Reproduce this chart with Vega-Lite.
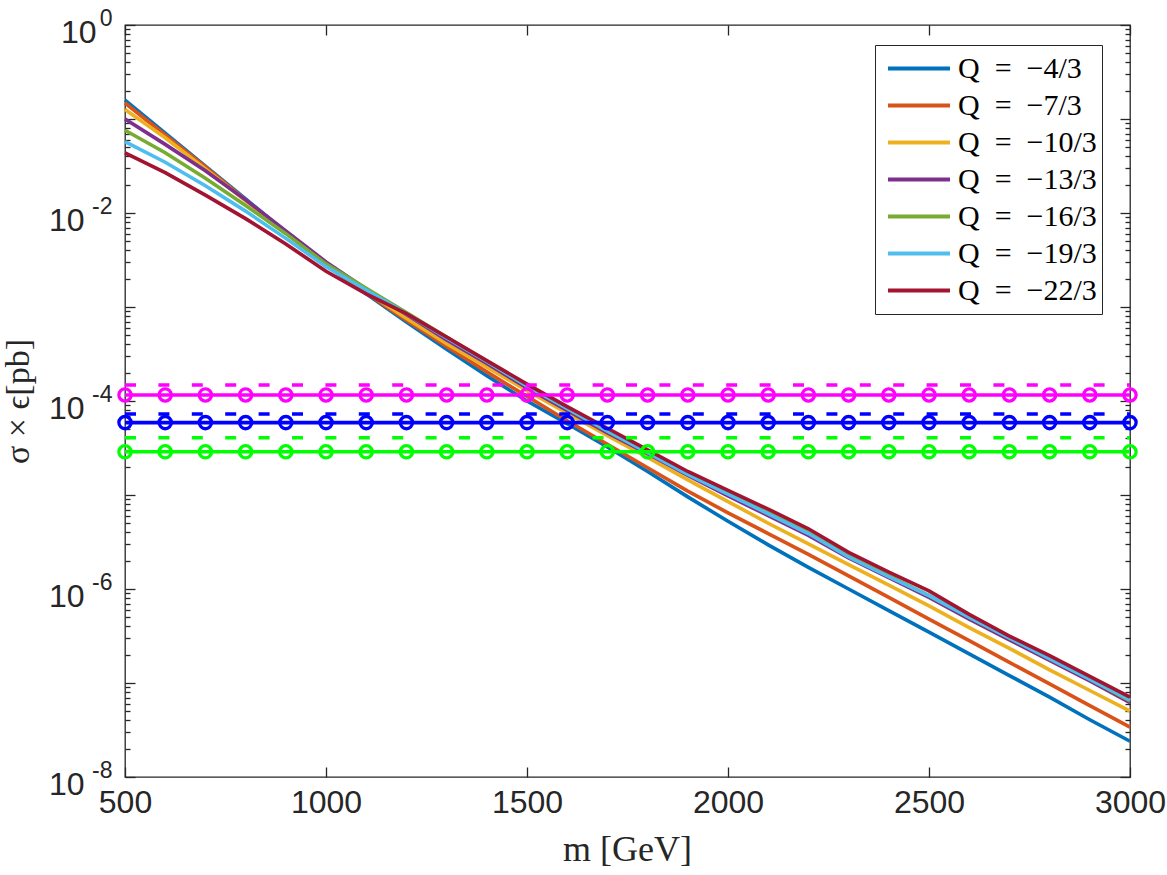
{
  "$schema": "https://vega.github.io/schema/vega-lite/v6.json",
  "width": 1005,
  "height": 752,
  "autosize": {"type": "none"},
  "padding": {"left": 125, "top": 25, "right": 37, "bottom": 98},
  "background": "white",
  "config": {
    "view": {"stroke": "#262626", "strokeWidth": 1.3},
    "axis": {"grid": false, "domain": false, "tickColor": "#262626", "tickWidth": 1.3, "labelColor": "#262626", "titleColor": "#262626", "labelOverlap": false, "labelBound": false}
  },
  "datasets": {
    "curves": [
      {"m":500,"Q":"−4/3","xsec":0.1585},{"m":600,"Q":"−4/3","xsec":0.0708},{"m":700,"Q":"−4/3","xsec":0.0316},{"m":800,"Q":"−4/3","xsec":0.0141},{"m":900,"Q":"−4/3","xsec":0.00631},{"m":1000,"Q":"−4/3","xsec":0.00282},{"m":1100,"Q":"−4/3","xsec":0.00138},{"m":1200,"Q":"−4/3","xsec":6.92e-4},{"m":1300,"Q":"−4/3","xsec":3.55e-4},{"m":1400,"Q":"−4/3","xsec":1.86e-4},{"m":1500,"Q":"−4/3","xsec":1.0e-4},{"m":1600,"Q":"−4/3","xsec":5.75e-5},{"m":1700,"Q":"−4/3","xsec":3.24e-5},{"m":1800,"Q":"−4/3","xsec":1.78e-5},{"m":1900,"Q":"−4/3","xsec":9.55e-6},{"m":2000,"Q":"−4/3","xsec":5.25e-6},{"m":2100,"Q":"−4/3","xsec":2.95e-6},{"m":2200,"Q":"−4/3","xsec":1.70e-6},{"m":2300,"Q":"−4/3","xsec":1.0e-6},{"m":2400,"Q":"−4/3","xsec":5.89e-7},{"m":2500,"Q":"−4/3","xsec":3.47e-7},{"m":2600,"Q":"−4/3","xsec":2.04e-7},{"m":2700,"Q":"−4/3","xsec":1.20e-7},{"m":2800,"Q":"−4/3","xsec":7.08e-8},{"m":2900,"Q":"−4/3","xsec":4.07e-8},{"m":3000,"Q":"−4/3","xsec":2.40e-8},
      {"m":500,"Q":"−7/3","xsec":0.1479},{"m":600,"Q":"−7/3","xsec":0.0676},{"m":700,"Q":"−7/3","xsec":0.0309},{"m":800,"Q":"−7/3","xsec":0.0138},{"m":900,"Q":"−7/3","xsec":0.00617},{"m":1000,"Q":"−7/3","xsec":0.00282},{"m":1100,"Q":"−7/3","xsec":0.00141},{"m":1200,"Q":"−7/3","xsec":7.24e-4},{"m":1300,"Q":"−7/3","xsec":3.80e-4},{"m":1400,"Q":"−7/3","xsec":2.04e-4},{"m":1500,"Q":"−7/3","xsec":1.12e-4},{"m":1600,"Q":"−7/3","xsec":6.17e-5},{"m":1700,"Q":"−7/3","xsec":3.47e-5},{"m":1800,"Q":"−7/3","xsec":1.95e-5},{"m":1900,"Q":"−7/3","xsec":1.10e-5},{"m":2000,"Q":"−7/3","xsec":6.46e-6},{"m":2100,"Q":"−7/3","xsec":3.89e-6},{"m":2200,"Q":"−7/3","xsec":2.34e-6},{"m":2300,"Q":"−7/3","xsec":1.38e-6},{"m":2400,"Q":"−7/3","xsec":8.13e-7},{"m":2500,"Q":"−7/3","xsec":4.79e-7},{"m":2600,"Q":"−7/3","xsec":2.82e-7},{"m":2700,"Q":"−7/3","xsec":1.66e-7},{"m":2800,"Q":"−7/3","xsec":9.77e-8},{"m":2900,"Q":"−7/3","xsec":5.75e-8},{"m":3000,"Q":"−7/3","xsec":3.39e-8},
      {"m":500,"Q":"−10/3","xsec":0.1259},{"m":600,"Q":"−10/3","xsec":0.0631},{"m":700,"Q":"−10/3","xsec":0.0295},{"m":800,"Q":"−10/3","xsec":0.0135},{"m":900,"Q":"−10/3","xsec":0.00617},{"m":1000,"Q":"−10/3","xsec":0.00288},{"m":1100,"Q":"−10/3","xsec":0.00145},{"m":1200,"Q":"−10/3","xsec":7.59e-4},{"m":1300,"Q":"−10/3","xsec":4.07e-4},{"m":1400,"Q":"−10/3","xsec":2.29e-4},{"m":1500,"Q":"−10/3","xsec":1.29e-4},{"m":1600,"Q":"−10/3","xsec":7.41e-5},{"m":1700,"Q":"−10/3","xsec":4.27e-5},{"m":1800,"Q":"−10/3","xsec":2.51e-5},{"m":1900,"Q":"−10/3","xsec":1.45e-5},{"m":2000,"Q":"−10/3","xsec":8.51e-6},{"m":2100,"Q":"−10/3","xsec":5.01e-6},{"m":2200,"Q":"−10/3","xsec":3.02e-6},{"m":2300,"Q":"−10/3","xsec":1.82e-6},{"m":2400,"Q":"−10/3","xsec":1.10e-6},{"m":2500,"Q":"−10/3","xsec":6.61e-7},{"m":2600,"Q":"−10/3","xsec":3.89e-7},{"m":2700,"Q":"−10/3","xsec":2.34e-7},{"m":2800,"Q":"−10/3","xsec":1.38e-7},{"m":2900,"Q":"−10/3","xsec":8.32e-8},{"m":3000,"Q":"−10/3","xsec":5.01e-8},
      {"m":500,"Q":"−13/3","xsec":0.100},{"m":600,"Q":"−13/3","xsec":0.0537},{"m":700,"Q":"−13/3","xsec":0.0282},{"m":800,"Q":"−13/3","xsec":0.0138},{"m":900,"Q":"−13/3","xsec":0.00646},{"m":1000,"Q":"−13/3","xsec":0.00302},{"m":1100,"Q":"−13/3","xsec":0.00155},{"m":1200,"Q":"−13/3","xsec":8.32e-4},{"m":1300,"Q":"−13/3","xsec":4.47e-4},{"m":1400,"Q":"−13/3","xsec":2.51e-4},{"m":1500,"Q":"−13/3","xsec":1.38e-4},{"m":1600,"Q":"−13/3","xsec":7.94e-5},{"m":1700,"Q":"−13/3","xsec":4.57e-5},{"m":1800,"Q":"−13/3","xsec":2.75e-5},{"m":1900,"Q":"−13/3","xsec":1.62e-5},{"m":2000,"Q":"−13/3","xsec":9.77e-6},{"m":2100,"Q":"−13/3","xsec":6.03e-6},{"m":2200,"Q":"−13/3","xsec":3.72e-6},{"m":2300,"Q":"−13/3","xsec":2.14e-6},{"m":2400,"Q":"−13/3","xsec":1.32e-6},{"m":2500,"Q":"−13/3","xsec":8.13e-7},{"m":2600,"Q":"−13/3","xsec":4.79e-7},{"m":2700,"Q":"−13/3","xsec":2.88e-7},{"m":2800,"Q":"−13/3","xsec":1.74e-7},{"m":2900,"Q":"−13/3","xsec":1.05e-7},{"m":3000,"Q":"−13/3","xsec":6.17e-8},
      {"m":500,"Q":"−16/3","xsec":0.0759},{"m":600,"Q":"−16/3","xsec":0.0437},{"m":700,"Q":"−16/3","xsec":0.0234},{"m":800,"Q":"−16/3","xsec":0.0120},{"m":900,"Q":"−16/3","xsec":0.00603},{"m":1000,"Q":"−16/3","xsec":0.00288},{"m":1100,"Q":"−16/3","xsec":0.001585},{"m":1200,"Q":"−16/3","xsec":8.71e-4},{"m":1300,"Q":"−16/3","xsec":4.79e-4},{"m":1400,"Q":"−16/3","xsec":2.63e-4},{"m":1500,"Q":"−16/3","xsec":1.45e-4},{"m":1600,"Q":"−16/3","xsec":8.32e-5},{"m":1700,"Q":"−16/3","xsec":4.79e-5},{"m":1800,"Q":"−16/3","xsec":2.88e-5},{"m":1900,"Q":"−16/3","xsec":1.70e-5},{"m":2000,"Q":"−16/3","xsec":1.05e-5},{"m":2100,"Q":"−16/3","xsec":6.46e-6},{"m":2200,"Q":"−16/3","xsec":3.98e-6},{"m":2300,"Q":"−16/3","xsec":2.24e-6},{"m":2400,"Q":"−16/3","xsec":1.38e-6},{"m":2500,"Q":"−16/3","xsec":8.51e-7},{"m":2600,"Q":"−16/3","xsec":5.01e-7},{"m":2700,"Q":"−16/3","xsec":3.02e-7},{"m":2800,"Q":"−16/3","xsec":1.82e-7},{"m":2900,"Q":"−16/3","xsec":1.10e-7},{"m":3000,"Q":"−16/3","xsec":6.46e-8},
      {"m":500,"Q":"−19/3","xsec":0.0575},{"m":600,"Q":"−19/3","xsec":0.0347},{"m":700,"Q":"−19/3","xsec":0.0195},{"m":800,"Q":"−19/3","xsec":0.01047},{"m":900,"Q":"−19/3","xsec":0.00537},{"m":1000,"Q":"−19/3","xsec":0.00269},{"m":1100,"Q":"−19/3","xsec":0.00151},{"m":1200,"Q":"−19/3","xsec":8.51e-4},{"m":1300,"Q":"−19/3","xsec":4.68e-4},{"m":1400,"Q":"−19/3","xsec":2.63e-4},{"m":1500,"Q":"−19/3","xsec":1.45e-4},{"m":1600,"Q":"−19/3","xsec":8.32e-5},{"m":1700,"Q":"−19/3","xsec":4.79e-5},{"m":1800,"Q":"−19/3","xsec":2.82e-5},{"m":1900,"Q":"−19/3","xsec":1.66e-5},{"m":2000,"Q":"−19/3","xsec":1.02e-5},{"m":2100,"Q":"−19/3","xsec":6.31e-6},{"m":2200,"Q":"−19/3","xsec":3.89e-6},{"m":2300,"Q":"−19/3","xsec":2.19e-6},{"m":2400,"Q":"−19/3","xsec":1.35e-6},{"m":2500,"Q":"−19/3","xsec":8.51e-7},{"m":2600,"Q":"−19/3","xsec":5.01e-7},{"m":2700,"Q":"−19/3","xsec":3.02e-7},{"m":2800,"Q":"−19/3","xsec":1.82e-7},{"m":2900,"Q":"−19/3","xsec":1.10e-7},{"m":3000,"Q":"−19/3","xsec":6.61e-8},
      {"m":500,"Q":"−22/3","xsec":0.0437},{"m":600,"Q":"−22/3","xsec":0.0269},{"m":700,"Q":"−22/3","xsec":0.0155},{"m":800,"Q":"−22/3","xsec":0.00871},{"m":900,"Q":"−22/3","xsec":0.00468},{"m":1000,"Q":"−22/3","xsec":0.00240},{"m":1100,"Q":"−22/3","xsec":0.00138},{"m":1200,"Q":"−22/3","xsec":8.51e-4},{"m":1300,"Q":"−22/3","xsec":4.79e-4},{"m":1400,"Q":"−22/3","xsec":2.69e-4},{"m":1500,"Q":"−22/3","xsec":1.51e-4},{"m":1600,"Q":"−22/3","xsec":8.71e-5},{"m":1700,"Q":"−22/3","xsec":5.13e-5},{"m":1800,"Q":"−22/3","xsec":3.02e-5},{"m":1900,"Q":"−22/3","xsec":1.78e-5},{"m":2000,"Q":"−22/3","xsec":1.12e-5},{"m":2100,"Q":"−22/3","xsec":7.08e-6},{"m":2200,"Q":"−22/3","xsec":4.37e-6},{"m":2300,"Q":"−22/3","xsec":2.45e-6},{"m":2400,"Q":"−22/3","xsec":1.51e-6},{"m":2500,"Q":"−22/3","xsec":9.55e-7},{"m":2600,"Q":"−22/3","xsec":5.37e-7},{"m":2700,"Q":"−22/3","xsec":3.16e-7},{"m":2800,"Q":"−22/3","xsec":1.95e-7},{"m":2900,"Q":"−22/3","xsec":1.175e-7},{"m":3000,"Q":"−22/3","xsec":7.08e-8}
    ],
    "limits": [
      {"m":500,"set":"a","xsec":1.16e-4},{"m":600,"set":"a","xsec":1.16e-4},{"m":700,"set":"a","xsec":1.16e-4},{"m":800,"set":"a","xsec":1.16e-4},{"m":900,"set":"a","xsec":1.16e-4},{"m":1000,"set":"a","xsec":1.16e-4},{"m":1100,"set":"a","xsec":1.16e-4},{"m":1200,"set":"a","xsec":1.16e-4},{"m":1300,"set":"a","xsec":1.16e-4},{"m":1400,"set":"a","xsec":1.16e-4},{"m":1500,"set":"a","xsec":1.16e-4},{"m":1600,"set":"a","xsec":1.16e-4},{"m":1700,"set":"a","xsec":1.16e-4},{"m":1800,"set":"a","xsec":1.16e-4},{"m":1900,"set":"a","xsec":1.16e-4},{"m":2000,"set":"a","xsec":1.16e-4},{"m":2100,"set":"a","xsec":1.16e-4},{"m":2200,"set":"a","xsec":1.16e-4},{"m":2300,"set":"a","xsec":1.16e-4},{"m":2400,"set":"a","xsec":1.16e-4},{"m":2500,"set":"a","xsec":1.16e-4},{"m":2600,"set":"a","xsec":1.16e-4},{"m":2700,"set":"a","xsec":1.16e-4},{"m":2800,"set":"a","xsec":1.16e-4},{"m":2900,"set":"a","xsec":1.16e-4},{"m":3000,"set":"a","xsec":1.16e-4},
      {"m":500,"set":"b","xsec":5.89e-5},{"m":600,"set":"b","xsec":5.89e-5},{"m":700,"set":"b","xsec":5.89e-5},{"m":800,"set":"b","xsec":5.89e-5},{"m":900,"set":"b","xsec":5.89e-5},{"m":1000,"set":"b","xsec":5.89e-5},{"m":1100,"set":"b","xsec":5.89e-5},{"m":1200,"set":"b","xsec":5.89e-5},{"m":1300,"set":"b","xsec":5.89e-5},{"m":1400,"set":"b","xsec":5.89e-5},{"m":1500,"set":"b","xsec":5.89e-5},{"m":1600,"set":"b","xsec":5.89e-5},{"m":1700,"set":"b","xsec":5.89e-5},{"m":1800,"set":"b","xsec":5.89e-5},{"m":1900,"set":"b","xsec":5.89e-5},{"m":2000,"set":"b","xsec":5.89e-5},{"m":2100,"set":"b","xsec":5.89e-5},{"m":2200,"set":"b","xsec":5.89e-5},{"m":2300,"set":"b","xsec":5.89e-5},{"m":2400,"set":"b","xsec":5.89e-5},{"m":2500,"set":"b","xsec":5.89e-5},{"m":2600,"set":"b","xsec":5.89e-5},{"m":2700,"set":"b","xsec":5.89e-5},{"m":2800,"set":"b","xsec":5.89e-5},{"m":2900,"set":"b","xsec":5.89e-5},{"m":3000,"set":"b","xsec":5.89e-5},
      {"m":500,"set":"c","xsec":2.88e-5},{"m":600,"set":"c","xsec":2.88e-5},{"m":700,"set":"c","xsec":2.88e-5},{"m":800,"set":"c","xsec":2.88e-5},{"m":900,"set":"c","xsec":2.88e-5},{"m":1000,"set":"c","xsec":2.88e-5},{"m":1100,"set":"c","xsec":2.88e-5},{"m":1200,"set":"c","xsec":2.88e-5},{"m":1300,"set":"c","xsec":2.88e-5},{"m":1400,"set":"c","xsec":2.88e-5},{"m":1500,"set":"c","xsec":2.88e-5},{"m":1600,"set":"c","xsec":2.88e-5},{"m":1700,"set":"c","xsec":2.88e-5},{"m":1800,"set":"c","xsec":2.88e-5},{"m":1900,"set":"c","xsec":2.88e-5},{"m":2000,"set":"c","xsec":2.88e-5},{"m":2100,"set":"c","xsec":2.88e-5},{"m":2200,"set":"c","xsec":2.88e-5},{"m":2300,"set":"c","xsec":2.88e-5},{"m":2400,"set":"c","xsec":2.88e-5},{"m":2500,"set":"c","xsec":2.88e-5},{"m":2600,"set":"c","xsec":2.88e-5},{"m":2700,"set":"c","xsec":2.88e-5},{"m":2800,"set":"c","xsec":2.88e-5},{"m":2900,"set":"c","xsec":2.88e-5},{"m":3000,"set":"c","xsec":2.88e-5}
    ],
    "expected": [
      {"m":500,"set":"a","xsec":1.48e-4},{"m":3000,"set":"a","xsec":1.48e-4},
      {"m":500,"set":"b","xsec":7.28e-5},{"m":3000,"set":"b","xsec":7.28e-5},
      {"m":500,"set":"c","xsec":4.07e-5},{"m":3000,"set":"c","xsec":4.07e-5}
    ]
  },
  "resolve": {"scale": {"x": "shared", "y": "shared"}, "axis": {"x": "independent", "y": "independent"}},
  "layer": [
    {
      "data": {"name": "curves"},
      "mark": {"type": "line", "strokeWidth": 3.6},
      "encoding": {
        "x": {
          "field": "m", "type": "quantitative",
          "scale": {"domain": [500, 3000], "nice": false, "zero": false},
          "axis": {
            "orient": "bottom", "values": [500, 1000, 1500, 2000, 2500, 3000], "format": "d",
            "ticks": false, "labelFlush": false, "labelFont": "Liberation Sans", "labelFontSize": 32,
            "labelPadding": 10,
            "title": "m [GeV]", "titleFont": "Liberation Serif", "titleFontSize": 36, "titleFontWeight": "normal",
            "titleX": 502, "titleY": 72, "titleBaseline": "middle", "titleAlign": "center"
          }
        },
        "y": {
          "field": "xsec", "type": "quantitative",
          "scale": {"type": "log", "domain": [1e-8, 1], "nice": false},
          "axis": {
            "orient": "left", "values": [1, 0.01, 0.0001, 1e-6, 1e-8],
            "ticks": false, "labelExpr": "'10'", "labelAlign": "right", "labelBaseline": "middle",
            "labelFont": "Liberation Sans", "labelFontSize": 32, "labelOffset": 7,
            "labelPadding": {"condition": {"test": "datum.value >= 0.5", "value": 29}, "value": 41},
            "title": "σ × ϵ[pb]", "titleFont": "Liberation Serif", "titleFontSize": 34, "titleFontWeight": "normal",
            "titleAngle": -90, "titleX": -107, "titleY": 376, "titleBaseline": "middle", "titleAlign": "center"
          }
        },
        "color": {
          "field": "Q", "type": "nominal",
          "scale": {
            "domain": ["−4/3", "−7/3", "−10/3", "−13/3", "−16/3", "−19/3", "−22/3"],
            "range": ["#0072BD", "#D95319", "#EDB120", "#7E2F8E", "#77AC30", "#4DBEEE", "#A2142F"]
          },
          "legend": {
            "orient": "none", "legendX": 750, "legendY": 20, "title": null,
            "symbolType": "stroke", "symbolSize": 3844, "symbolStrokeWidth": 4, "symbolOffset": 6,
            "labelFont": "Liberation Serif", "labelFontSize": 30, "labelColor": "#000000", "labelOffset": 6,
            "labelExpr": "'Q\u2002=\u2002' + datum.label", "labelLimit": 300,
            "clipHeight": 37, "rowPadding": 0, "padding": 5,
            "strokeColor": "#262626", "fillColor": "white"
          }
        }
      }
    },
    {
      "data": {"name": "expected"},
      "mark": {"type": "line", "strokeWidth": 3.6, "strokeDash": [11, 22.4]},
      "encoding": {
        "x": {"field": "m", "type": "quantitative", "axis": {"orient": "bottom", "values": [500, 1000, 1500, 2000, 2500, 3000], "labels": false, "tickSize": -10, "title": null}},
        "y": {
          "field": "xsec", "type": "quantitative",
          "axis": {
            "orient": "left", "values": [1, 0.01, 0.0001, 1e-6, 1e-8],
            "ticks": false, "labelExpr": "'' + round(log(datum.value) / LN10)", "labelAlign": "right", "labelBaseline": "middle",
            "labelFont": "Liberation Sans", "labelFontSize": 23, "labelOffset": -7, "labelPadding": 13, "title": null
          }
        },
        "stroke": {"field": "set", "type": "nominal", "scale": {"domain": ["a", "b", "c"], "range": ["#FF00FF", "#0000FF", "#00FF00"]}, "legend": null},
        "detail": {"field": "set"}
      }
    },
    {
      "data": {"name": "limits"},
      "mark": {"type": "line", "strokeWidth": 3.6},
      "encoding": {
        "x": {"field": "m", "type": "quantitative", "axis": {"orient": "top", "values": [500, 1000, 1500, 2000, 2500, 3000], "labels": false, "tickSize": -10, "title": null}},
        "y": {
          "field": "xsec", "type": "quantitative",
          "axis": {
            "orient": "left", "labels": false, "title": null,
            "values": [1e-8,2e-8,3e-8,4e-8,5e-8,6e-8,7e-8,8e-8,9e-8,1e-7,2e-7,3e-7,4e-7,5e-7,6e-7,7e-7,8e-7,9e-7,1e-6,2e-6,3e-6,4e-6,5e-6,6e-6,7e-6,8e-6,9e-6,1e-5,2e-5,3e-5,4e-5,5e-5,6e-5,7e-5,8e-5,9e-5,1e-4,2e-4,3e-4,4e-4,5e-4,6e-4,7e-4,8e-4,9e-4,0.001,0.002,0.003,0.004,0.005,0.006,0.007,0.008,0.009,0.01,0.02,0.03,0.04,0.05,0.06,0.07,0.08,0.09,0.1,0.2,0.3,0.4,0.5,0.6,0.7,0.8,0.9,1],
            "tickSize": {"condition": {"test": "abs(log(datum.value) / LN10 - round(log(datum.value) / LN10)) < 0.001", "value": -10}, "value": -5}
          }
        },
        "stroke": {"field": "set", "type": "nominal", "legend": null},
        "detail": {"field": "set"}
      }
    },
    {
      "data": {"name": "limits"},
      "mark": {"type": "point", "shape": "circle", "filled": false, "size": 150, "strokeWidth": 3.3, "opacity": 1},
      "encoding": {
        "x": {"field": "m", "type": "quantitative", "axis": null},
        "y": {
          "field": "xsec", "type": "quantitative",
          "axis": {
            "orient": "right", "labels": false, "title": null,
            "values": [1e-8,2e-8,3e-8,4e-8,5e-8,6e-8,7e-8,8e-8,9e-8,1e-7,2e-7,3e-7,4e-7,5e-7,6e-7,7e-7,8e-7,9e-7,1e-6,2e-6,3e-6,4e-6,5e-6,6e-6,7e-6,8e-6,9e-6,1e-5,2e-5,3e-5,4e-5,5e-5,6e-5,7e-5,8e-5,9e-5,1e-4,2e-4,3e-4,4e-4,5e-4,6e-4,7e-4,8e-4,9e-4,0.001,0.002,0.003,0.004,0.005,0.006,0.007,0.008,0.009,0.01,0.02,0.03,0.04,0.05,0.06,0.07,0.08,0.09,0.1,0.2,0.3,0.4,0.5,0.6,0.7,0.8,0.9,1],
            "tickSize": {"condition": {"test": "abs(log(datum.value) / LN10 - round(log(datum.value) / LN10)) < 0.001", "value": -10}, "value": -5}
          }
        },
        "stroke": {"field": "set", "type": "nominal", "legend": null}
      }
    }
  ]
}
